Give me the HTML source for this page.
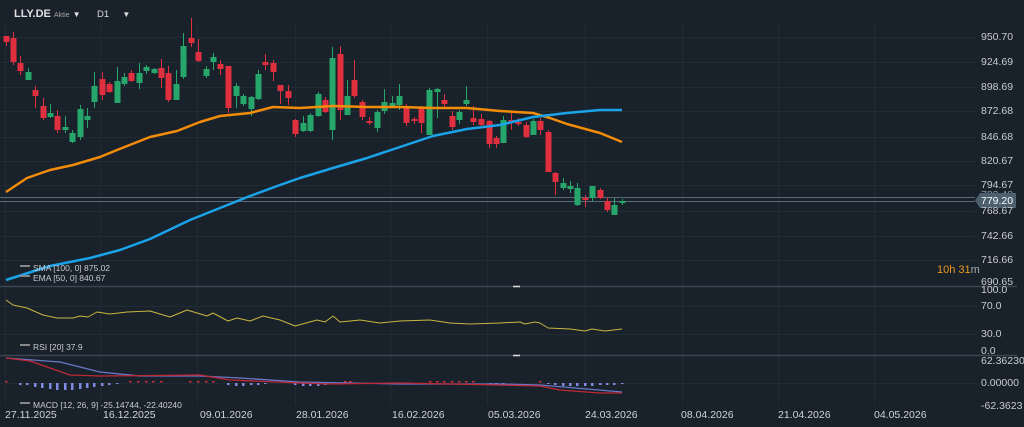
<!DOCTYPE html>
<html><head><meta charset="utf-8"><style>
html,body{margin:0;padding:0;background:#19212a;width:1024px;height:427px;overflow:hidden;font-family:"Liberation Sans",sans-serif}
svg{position:absolute;left:0;top:0}
.t{position:absolute;color:#d0d4d8;font-size:10.5px;white-space:nowrap;line-height:12px}
.ax{position:absolute;left:981px;color:#c8ccd0;font-size:10.5px;line-height:12px}
.lg{position:absolute;left:20px;color:#c8ccd0;font-size:8.5px;line-height:10px}
.ic{display:inline-block;width:10px;height:6px;border-top:2px solid #888;margin-right:3px;vertical-align:middle}
.dt{position:absolute;top:409px;color:#d0d4d8;font-size:10.5px;line-height:12px}
</style></head><body>
<svg id="s" width="1024" height="427" xmlns="http://www.w3.org/2000/svg"></svg>
<div class="t" style="left:14px;top:8px;font-weight:bold;font-size:11px;color:#e0e0e0">LLY.DE <span style="font-weight:normal;font-size:7px;color:#aaa">Aktie</span> <span style="font-size:8px">▼</span></div>
<div class="t" style="left:97px;top:9px;font-size:9.5px;color:#ddd">D1 &nbsp;&nbsp;&nbsp;&nbsp;<span style="font-size:8px">▼</span></div>
<div class="ax" style="top:31px">950.70</div>
<div class="ax" style="top:56px">924.69</div>
<div class="ax" style="top:81px">898.69</div>
<div class="ax" style="top:105px">872.68</div>
<div class="ax" style="top:131px">846.68</div>
<div class="ax" style="top:155px">820.67</div>
<div class="ax" style="top:179px">794.67</div>
<div class="ax" style="top:189px;color:#8a9aa8">783.48</div>
<div style="position:absolute;left:980px;top:193px;width:36px;height:15px;background:#4e606e"></div>
<div class="ax" style="top:195px;color:#fff">779.20</div>
<div class="ax" style="top:205px">768.67</div>
<div class="ax" style="top:230px">742.66</div>
<div class="ax" style="top:254px">716.66</div>
<div class="ax" style="top:276px">690.65</div>
<div class="t" style="left:937px;top:264px;font-size:11px;color:#e89a1e">10h 31<span style="color:#aaa">m</span></div>
<div class="ax" style="top:284px">100.0</div>
<div class="ax" style="top:300px">70.0</div>
<div class="ax" style="top:328px">30.0</div>
<div class="ax" style="top:345px">0.0</div>
<div class="ax" style="top:355px">62.36230</div>
<div class="ax" style="top:377px">0.00000</div>
<div class="ax" style="top:400px">-62.3623</div>
<div class="lg" style="top:263px"><span class="ic"></span>SMA [100, 0] 875.02</div>
<div class="lg" style="top:273px"><span class="ic"></span>EMA [50, 0] 840.67</div>
<div class="lg" style="top:342px"><span class="ic"></span>RSI [20] 37.9</div>
<div class="lg" style="top:400px"><span class="ic"></span>MACD [12, 26, 9] -25.14744, -22.40240</div>
<div class="dt" style="left:5px">27.11.2025</div>
<div class="dt" style="left:103px">16.12.2025</div>
<div class="dt" style="left:200px">09.01.2026</div>
<div class="dt" style="left:296px">28.01.2026</div>
<div class="dt" style="left:392px">16.02.2026</div>
<div class="dt" style="left:488px">05.03.2026</div>
<div class="dt" style="left:585px">24.03.2026</div>
<div class="dt" style="left:681px">08.04.2026</div>
<div class="dt" style="left:778px">21.04.2026</div>
<div class="dt" style="left:874px">04.05.2026</div>
<script>
var s=document.getElementById('s'),h='';
function L(x1,y1,x2,y2,c,w){h+='<line x1="'+x1+'" y1="'+y1+'" x2="'+x2+'" y2="'+y2+'" stroke="'+c+'" stroke-width="'+(w||1)+'"/>';}
function P(pts,c,w){h+='<polyline fill="none" stroke="'+c+'" stroke-width="'+w+'" stroke-linejoin="round" points="'+pts.map(function(p){return p.join(',')}).join(' ')+'"/>';}
// grid
[37,62,87,111,137,161,185,211,236,260].forEach(function(y){L(0,y+.5,975,y+.5,'#212b34');});
[306,334,383].forEach(function(y){L(0,y+.5,975,y+.5,'#212b34');});
[5,100,197,295,390,487,585,682,778,874].forEach(function(x){L(x+.5,22,x+.5,405,'#212b34');});
L(0,286.5,1017,286.5,'#3a4650',1.5);L(0,355.5,1017,355.5,'#3a4650',1.5);
L(513,286.5,520,286.5,'#ddd',1.5);L(513,355.5,520,355.5,'#ddd',1.5);
L(0,197.5,975,197.5,'#5a6a78');L(0,201.5,975,201.5,'#5a6a78');
// candles: x,color(g/r),bodyTop,bodyBot,wickTop,wickBot
var C=[[6,'r',36,42,36,46],[13,'r',38,62,32,65],[20,'r',63,71,56,75],[28,'g',72,80,68,80],[35,'r',90,96,86,108],[43,'r',106,118,98,120],[50,'g',113,117,104,118],[57,'r',116,130,110,133],[65,'g',127,130,116,133],[72,'g',133,142,130,143],[80,'g',109,137,105,140],[87,'g',116,120,108,128],[94,'g',86,102,72,108],[102,'r',79,95,72,100],[109,'r',84,92,82,93],[117,'g',81,103,67,103],[124,'g',77,84,73,86],[131,'r',73,81,70,82],[139,'g',73,83,63,89],[146,'g',67,71,65,74],[154,'g',69,73,68,74],[161,'r',68,78,59,88],[168,'r',73,100,66,102],[176,'g',84,100,70,100],[183,'g',46,77,33,79],[191,'r',38,43,18,47],[198,'r',52,61,39,62],[206,'g',69,76,66,78],[213,'g',57,62,53,70],[220,'r',64,69,60,75],[228,'r',66,108,66,113],[236,'g',86,96,83,108],[243,'g',96,104,94,106],[251,'g',97,109,96,116],[258,'g',74,99,70,100],[265,'r',62,65,54,70],[273,'r',63,72,60,81],[280,'r',85,91,85,104],[288,'r',91,98,85,105],[295,'r',120,134,119,137],[303,'g',123,131,116,132],[310,'g',115,131,113,132],[318,'g',94,116,92,117],[325,'r',100,112,97,113],[332,'g',58,130,47,140],[340,'r',54,110,46,120],[347,'g',96,115,80,115],[354,'r',80,96,60,98],[362,'r',102,117,100,120],[369,'r',121,123,117,125],[377,'g',112,128,110,132],[384,'g',102,111,89,114],[392,'g',103,106,96,108],[399,'g',96,105,84,110],[406,'r',108,123,104,126],[414,'r',119,121,117,124],[421,'r',108,123,106,133],[429,'g',90,135,88,135],[437,'g',89,92,88,118],[444,'r',100,104,94,108],[452,'r',116,127,111,130],[459,'g',112,120,110,124],[466,'g',100,104,86,106],[473,'r',118,122,106,125],[481,'r',119,125,114,127],[489,'r',121,144,120,148],[496,'r',138,144,136,148],[503,'g',120,143,116,143],[511,'r',120,122,112,130],[518,'r',122,124,118,126],[526,'r',125,137,122,138],[533,'g',121,135,119,135],[540,'r',121,130,118,135],[548,'r',132,172,130,172],[555,'r',173,182,172,195],[563,'g',183,188,178,190],[570,'g',186,189,181,193],[577,'g',188,205,183,206],[585,'r',198,200,195,207],[592,'g',186,198,186,201],[600,'r',190,198,188,199],[607,'r',201,210,198,212],[614,'g',205,215,198,215],[622,'g',201,203,199,205]];
C.forEach(function(c){var col=c[1]=='g'?'#26a66b':'#e0303f';L(c[0]+.5,c[4],c[0]+.5,c[5],col);var bh=Math.max(2,c[3]-c[2]);h+='<rect x="'+(c[0]-2.5)+'" y="'+c[2]+'" width="6" height="'+bh+'" fill="'+col+'"/>';});
P([[6,192],[27,178],[50,170],[73,165],[100,157],[117,150],[150,137],[177,131],[200,122],[220,116],[250,113],[273,107],[300,108],[333,106],[367,107],[400,107],[433,108],[467,108],[500,111],[533,113],[550,118],[567,124],[600,133],[622,142]],'#f28c0a',2.5);
P([[6,280],[50,266],[90,258],[120,250],[150,239],[190,220],[220,208],[250,196],[280,185],[300,178],[333,168],[367,158],[400,147],[433,136],[467,129],[500,125],[533,117],[567,113],[600,110],[622,110]],'#1ba3ea',2.5);
P([[6,300],[13,305],[27,308],[43,315],[57,318],[73,318],[80,316],[88,317],[97,312],[110,314],[127,312],[150,311],[170,317],[187,310],[207,316],[213,313],[228,321],[237,318],[250,321],[263,316],[280,320],[295,326],[317,320],[325,322],[333,316],[340,322],[360,320],[380,323],[400,321],[430,320],[450,323],[470,324],[500,323],[520,322],[525,324],[535,322],[540,323],[548,328],[570,329],[585,331],[592,329],[605,331],[622,329]],'#c8b640',1);
// macd hist
var hb=[[20,2],[27,2],[35,4],[42,5],[50,6],[57,7],[65,7],[72,7],[80,6],[87,5],[94,4],[102,3],[109,2],[117,1],[228,2],[236,3],[243,3],[251,2],[258,2],[265,1],[295,2],[303,3],[310,3],[318,3],[325,2],[377,1],[490,1],[496,1],[503,1],[548,1],[555,2],[563,3],[570,3],[577,3],[585,3],[592,3],[600,2],[607,2],[614,2],[622,1]];
hb.forEach(function(b){h+='<rect x="'+(b[0]-1)+'" y="383" width="2.5" height="'+b[1]+'" fill="#7f8ae0"/>';});
[6,130,138,146,153,161,190,198,206,213,345,350,430,437,444,452,459,466,473,540].forEach(function(x){h+='<rect x="'+(x-1)+'" y="381" width="2.5" height="1.5" fill="#d03040"/>';});
P([[6,358],[60,362],[100,372],[140,376],[200,376],[240,378],[300,382],[400,384],[500,384],[540,385],[622,392]],'#6a78c8',1.3);
P([[6,358],[30,361],[70,375],[100,376],[200,375],[230,380],[300,383],[330,384],[400,383],[500,385],[540,386],[560,390],[600,393],[622,393]],'#c02838',1.3);
h+='<polygon points="975,200.5 980,193 980,208" fill="#4e606e"/>';
s.innerHTML=h;
</script>
</body></html>
